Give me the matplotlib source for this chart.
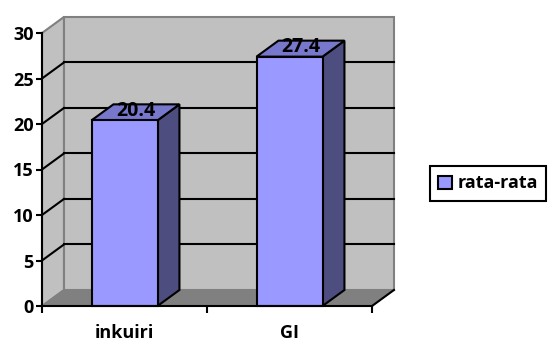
import numpy as np
import matplotlib
matplotlib.use("Agg")
import matplotlib.pyplot as plt
from matplotlib.patches import Polygon, Patch

plt.rcParams['font.family'] = ['Open Sans', 'DejaVu Sans']
plt.rcParams['font.weight'] = 'bold'

categories = ['inkuiri', 'GI']
values = [20.4, 27.4]
series_name = 'rata-rata'
yticks = [0, 5, 10, 15, 20, 25, 30]

# depth offset of the fake 3d box (category units, value units)
ddx = 0.133
ddy = 1.76
bar_w = 0.4

wall = '#c0c0c0'
floor_c = '#808080'
front_c = '#9999ff'
side_c = '#4d4d80'
top_c = '#7777cc'
fs = 13

fig = plt.figure(figsize=(5.49, 3.41), dpi=100)
ax = fig.add_axes([42 / 549, 1 - 306 / 341, 330 / 549, 273 / 341])
ax.set_xlim(-0.5, len(categories) - 0.5)
ax.set_ylim(0, 30)
ax.patch.set_visible(False)

x0, x1 = -0.5, len(categories) - 0.5
ymax = yticks[-1]

def poly(pts, fc, ec, lw=1.0, z=1):
    p = Polygon(pts, closed=True, facecolor=fc, edgecolor=ec, lw=lw, zorder=z, clip_on=False)
    ax.add_patch(p)

# walls and floor
poly([(x0 + ddx, ddy), (x1 + ddx, ddy), (x1 + ddx, ymax + ddy), (x0 + ddx, ymax + ddy)], wall, floor_c, 1.5, 1)
poly([(x0, 0), (x0 + ddx, ddy), (x0 + ddx, ymax + ddy), (x0, ymax)], wall, floor_c, 1.5, 1)
poly([(x0, 0), (x1, 0), (x1 + ddx, ddy), (x0 + ddx, ddy)], floor_c, floor_c, 1.0, 1)
ax.plot([x1, x1 + ddx], [0, ddy], color='black', lw=1.5, zorder=2, clip_on=False)

# gridlines on back wall and side wall
for v in yticks[1:-1]:
    ax.plot([x0 + ddx, x1 + ddx], [v + ddy, v + ddy], color='black', lw=1.5, zorder=2, clip_on=False)
    ax.plot([x0, x0 + ddx], [v, v + ddy], color='black', lw=1.5, zorder=2, clip_on=False)

# bars
for i, v in enumerate(values):
    l, r = i - bar_w / 2, i + bar_w / 2
    poly([(r, 0), (r + ddx, ddy), (r + ddx, v + ddy), (r, v)], side_c, 'black', 1.5, 3)
    poly([(l, v), (r, v), (r + ddx, v + ddy), (l + ddx, v + ddy)], top_c, 'black', 1.5, 3)
    poly([(l, 0), (r, 0), (r, v), (l, v)], front_c, 'black', 1.5, 4)
    ax.text(i + ddx / 2, v + ddy / 2 - 0.35, f'{v:.1f}', ha='center', va='baseline',
            fontsize=14, fontweight='bold', zorder=5)

# axes
for s in ['top', 'right']:
    ax.spines[s].set_visible(False)
for s in ['left', 'bottom']:
    ax.spines[s].set_linewidth(1.5)
    ax.spines[s].set_zorder(6)
ax.set_yticks(yticks)
ax.set_yticklabels([str(t) for t in yticks], fontsize=fs, fontweight='bold')
ax.set_xticks(np.arange(len(categories) + 1) - 0.5)
ax.set_xticklabels([])
ax.set_xticks(np.arange(len(categories)), minor=True)
ax.set_xticklabels(categories, minor=True, fontsize=fs, fontweight='bold')
ax.tick_params(axis='y', length=4, width=1.5, pad=2)
ax.tick_params(axis='x', which='major', length=5, width=1.5)
ax.tick_params(axis='x', which='minor', length=0, pad=13)

handle = Patch(facecolor=front_c, edgecolor='black', lw=1.5)
leg = fig.legend([handle], [series_name], loc='center', bbox_to_anchor=(488 / 549, 1 - 183.5 / 341),
                 fancybox=False, edgecolor='black', framealpha=1,
                 handlelength=0.75, handleheight=0.75, handletextpad=0.3, borderpad=0.45,
                 prop={'weight': 'bold', 'size': fs})
leg.get_frame().set_linewidth(1.5)

fig.savefig('out.png', dpi=100)
